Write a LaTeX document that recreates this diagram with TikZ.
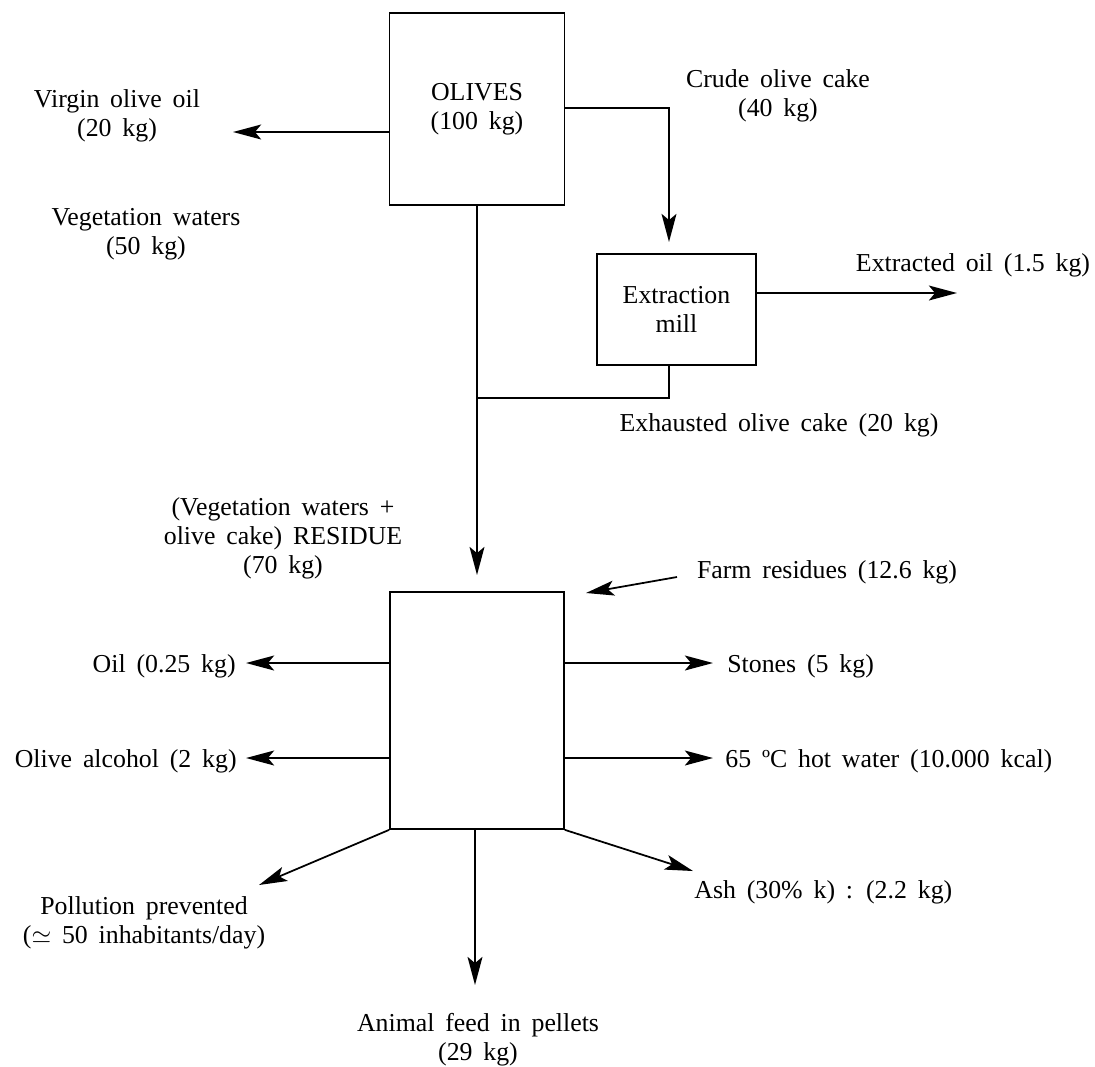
\documentclass[tikz,border=0pt]{standalone}
\usepackage{fontspec}
\setmainfont{Liberation Serif}
\usetikzlibrary{arrows.meta}
\protected\def\lblfont{\fontsize{14.7pt}{16.6pt}\selectfont\spaceskip=0.42em plus 0.1em minus 0.05em\relax}
\begin{document}
\begin{tikzpicture}[x=0.02cm,y=-0.02cm,
  txt/.style={inner sep=0pt,align=center,font=\lblfont},
  box/.style={draw,line width=1pt,inner sep=0pt,align=center,font=\lblfont},
  ln/.style={line width=1pt},
  arr/.style={line width=1pt,-{Stealth[length=16pt,width=8.5pt,inset=3.5pt]}}]
\useasboundingbox (0,0) rectangle (1095,1066);
% boxes
\node[box,minimum width=3.5cm,minimum height=3.84cm] (olives) at (477,109) {OLIVES\\(100 kg)};
\node[box,minimum width=3.18cm,minimum height=2.22cm] (extr) at (676.5,309.5) {Extraction\\mill};
\node[box,minimum width=3.48cm,minimum height=4.74cm] (main) at (477,710.5) {};
% labels
\node[txt] (virgin) at (117,116) {Virgin olive oil\\(20 kg)};
\node[txt] (veg) at (146,234) {Vegetation waters\\(50 kg)};
\node[txt] (crude) at (778,96) {Crude olive cake\\(40 kg)};
\node[txt] (extroil) at (973,265) {Extracted oil (1.5 kg)};
\node[txt] (exh) at (779,425) {Exhausted olive cake (20 kg)};
\node[txt] (res) at (283,538) {(Vegetation waters +\\olive cake) RESIDUE\\(70 kg)};
\node[txt] (farm) at (827,572) {Farm residues (12.6 kg)};
\node[txt,anchor=east] (oil) at (236,666) {Oil (0.25 kg)};
\node[txt,anchor=west] (stones) at (727,666) {Stones (5 kg)};
\node[txt,anchor=east] (alc) at (237,761) {Olive alcohol (2 kg)};
\node[txt,anchor=west] (hot) at (725,761) {65 ºC hot water (10.000 kcal)};
\node[txt] (poll) at (144,923) {Pollution prevented\\($\simeq$ 50 inhabitants/day)};
\node[txt] (animal) at (478,1040) {Animal feed in pellets\\(29 kg)};
\node[txt,anchor=west] (ash) at (694,892) {Ash (30\% k) : (2.2 kg)};
% free ends
\coordinate (vTip) at (233,132);
\coordinate (cTurn) at (669,108);
\coordinate (cTip) at (669,242);
\coordinate (eTip) at (957,293);
\coordinate (join) at (477,398);
\coordinate (rTip) at (477,575);
\coordinate (fStart) at (677,577);
\coordinate (fTip) at (586,593);
\coordinate (oTip) at (246,663);
\coordinate (sTip) at (713,663);
\coordinate (aTip) at (246,758);
\coordinate (hTip) at (713,758);
\coordinate (pTip) at (259,885);
\coordinate (anTip) at (475,985);
\coordinate (ashTip) at (693,871);
% connectors
\draw[arr] (olives.west |- vTip) -- (vTip);
\draw[arr] (olives.east |- cTurn) -- (cTurn) -- (cTip);
\draw[arr] (extr.east |- eTip) -- (eTip);
\draw[ln] (extr.south -| cTip) |- (join);
\draw[arr] (olives.south) -- (rTip);
\draw[arr] (fStart) -- (fTip);
\draw[arr] (main.west |- oTip) -- (oTip);
\draw[arr] (main.east |- sTip) -- (sTip);
\draw[arr] (main.west |- aTip) -- (aTip);
\draw[arr] (main.east |- hTip) -- (hTip);
\draw[arr] (main.south west) -- (pTip);
\draw[arr] (main.south -| anTip) -- (anTip);
\draw[arr] (main.south east) -- (ashTip);
\end{tikzpicture}
\end{document}
